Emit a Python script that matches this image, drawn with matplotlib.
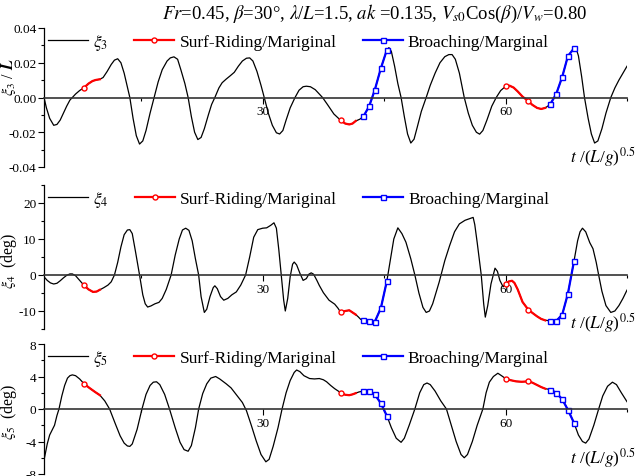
import numpy as np
import matplotlib.pyplot as plt
from matplotlib.lines import Line2D
from matplotlib.ticker import MultipleLocator, FormatStrFormatter

plt.rcParams['font.family'] = ['Liberation Serif', 'DejaVu Serif']
plt.rcParams['mathtext.fontset'] = 'stix'
plt.rcParams['axes.unicode_minus'] = False

# heave (xi3/L)
t3 = [3.0, 3.3, 3.7, 4.2, 4.6, 5.0, 5.4, 5.8, 6.2, 6.5, 6.9, 7.4, 7.95, 8.5, 9.0, 9.4,
      9.9, 10.3, 10.8, 11.3, 11.7, 12.1, 12.5, 12.9, 13.3, 13.6, 14.0, 14.4, 14.8, 15.2,
      15.6, 16.1, 16.6, 17.1, 17.6, 18.2, 18.6, 19.05, 19.5, 19.9, 20.4, 20.8, 21.2,
      21.6, 22.0, 22.4, 22.8, 23.3, 23.7, 24.1, 24.6, 25.0, 25.5, 26.0, 26.5, 27.0,
      27.5, 28.0, 28.4, 28.8, 29.3, 29.8, 30.2, 30.7, 31.2, 31.7, 32.1, 32.5, 32.9,
      33.4, 34.0, 34.5, 35.0, 35.4, 35.9, 36.5, 37.0, 37.4, 38.0, 38.8, 39.65, 40.2,
      40.7, 41.1, 41.5, 42.0, 42.45, 43.15, 43.85, 44.6, 45.35, 45.6, 45.9, 46.3, 46.7,
      47.1, 47.5, 47.9, 48.3, 48.7, 49.1, 49.6, 50.2, 50.7, 51.3, 51.9, 52.5, 53.0,
      53.4, 53.8, 54.3, 54.9, 55.4, 55.9, 56.4, 56.8, 57.2, 57.7, 58.3, 58.85, 59.4,
      60.0, 60.5, 61.0, 61.5, 62.1, 62.8, 63.3, 63.9, 64.4, 64.9, 65.5, 66.25, 67.0,
      67.7, 68.45, 68.7, 69.0, 69.4, 69.75, 70.2, 70.6, 71.0, 71.4, 71.9, 72.4, 73.0,
      73.5, 74.0, 74.5, 75.0]
xi3 = [0.0, -0.006, -0.012, -0.016, -0.0155, -0.013, -0.009, -0.005, -0.0015, 0.0,
       0.002, 0.004, 0.0057, 0.008, 0.0095, 0.0101, 0.0105, 0.0115, 0.015, 0.019, 0.0215,
       0.0223, 0.02, 0.014, 0.006, 0.0, -0.012, -0.022, -0.0268, -0.025, -0.019, -0.009,
       0.0, 0.009, 0.016, 0.021, 0.0228, 0.0234, 0.022, 0.016, 0.008, 0.0, -0.011, -0.02,
       -0.0242, -0.023, -0.018, -0.01, -0.004, 0.0, 0.0055, 0.0085, 0.0106, 0.0125,
       0.0145, 0.018, 0.021, 0.0226, 0.0228, 0.021, 0.015, 0.007, 0.0, -0.009, -0.016,
       -0.0203, -0.021, -0.019, -0.013, -0.006, 0.0, 0.0042, 0.0062, 0.0065, 0.0062,
       0.0045, 0.002, 0.0, -0.004, -0.0095, -0.0132, -0.015, -0.0155, -0.015, -0.0135,
       -0.0125, -0.0109, -0.0051, 0.0043, 0.0168, 0.0275, 0.0287, 0.0265, 0.018, 0.008,
       0.0, -0.011, -0.021, -0.0262, -0.024, -0.017, -0.008, 0.0, 0.007, 0.014, 0.02,
       0.0235, 0.0247, 0.0247, 0.022, 0.014, 0.0, -0.009, -0.016, -0.02, -0.0211, -0.019,
       -0.013, -0.005, 0.0, 0.004, 0.0064, 0.0068, 0.0057, 0.0035, 0.0005, -0.002,
       -0.0042, -0.006, -0.0066, -0.006, -0.004, 0.0019, 0.0119, 0.0238, 0.0283, 0.0285,
       0.024, 0.012, 0.0, -0.012, -0.021, -0.0262, -0.025, -0.018, -0.009, 0.0, 0.0055,
       0.01, 0.014, 0.018]

# roll (xi4, deg)
t4 = [3.0, 3.4, 3.8, 4.2, 4.6, 5.0, 5.4, 5.8, 6.2, 6.5, 6.9, 7.4, 7.95, 8.5, 9.05, 9.5,
      9.9, 10.4, 10.9, 11.3, 11.7, 12.1, 12.5, 12.9, 13.3, 13.6, 13.9, 14.3, 14.8, 15.2,
      15.5, 15.8, 16.2, 16.7, 17.2, 17.6, 18.1, 18.7, 19.2, 19.7, 20.1, 20.5, 20.9,
      21.3, 21.7, 22.1, 22.4, 22.8, 23.1, 23.5, 23.9, 24.1, 24.4, 24.8, 25.2, 25.7,
      26.2, 26.75, 27.3, 27.9, 28.4, 28.9, 29.4, 30.0, 30.5, 31.0, 31.4, 31.7, 32.0,
      32.3, 32.6, 32.8, 33.1, 33.4, 33.7, 33.9, 34.2, 34.6, 35.0, 35.4, 35.7, 36.0,
      36.3, 36.7, 37.0, 37.5, 38.2, 38.9, 39.3, 39.65, 40.2, 40.7, 41.1, 41.5, 41.8,
      42.1, 42.45, 43.15, 43.85, 44.6, 45.35, 45.8, 46.2, 46.7, 47.2, 47.7, 48.3, 48.8,
      49.3, 49.8, 50.2, 50.6, 51.0, 51.4, 51.8, 52.5, 53.1, 53.7, 54.3, 55.0, 55.5,
      56.0, 56.2, 56.5, 57.0, 57.3, 57.5, 57.8, 58.2, 58.7, 59.0, 59.3, 59.7, 60.0,
      60.4, 60.8, 61.1, 61.5, 62.1, 62.8, 63.3, 63.9, 64.4, 64.9, 65.5, 66.25, 67.0,
      67.7, 68.45, 68.9, 69.2, 69.5, 69.9, 70.4, 70.8, 71.2, 71.5, 71.9, 72.4, 73.0,
      73.5, 74.0, 74.5, 75.0]
xi4 = [-0.5, -1.5, -2.2, -2.5, -2.3, -1.6, -0.8, -0.1, 0.3, 0.3, -0.2, -1.5, -2.9, -4.0,
       -4.7, -4.6, -4.1, -3.5, -2.8, -1.9, 0.0, 3.5, 7.8, 11.2, 12.5, 12.6, 11.5, 6.5,
       0.0, -5.5, -8.0, -8.9, -8.6, -8.0, -7.6, -6.5, -4.0, 0.0, 5.5, 10.0, 12.5, 13.0,
       12.4, 9.5, 4.5, 0.0, -6.0, -10.4, -9.5, -6.0, -3.5, -3.0, -3.8, -6.0, -7.0, -6.5,
       -5.5, -4.7, -2.8, 0.0, 5.0, 10.5, 12.6, 13.0, 13.1, 13.8, 14.5, 13.0, 7.0, 0.0,
       -7.0, -10.0, -6.5, -0.5, 3.0, 3.6, 2.8, 0.5, -1.5, -1.0, 0.2, 0.6, 0.2, -1.5,
       -2.9, -4.9, -7.0, -8.1, -9.2, -10.4, -10.0, -9.8, -10.4, -11.0, -11.6, -12.3,
       -12.6, -12.7, -13.0, -9.2, -1.6, 4.5, 10.0, 13.1, 11.5, 9.1, 4.5, 0.0, -5.0, -9.0,
       -10.4, -10.0, -8.0, -5.0, -2.0, 4.0, 8.2, 12.0, 14.2, 15.2, 15.6, 16.0, 14.0, 9.0,
       0.0, -8.0, -11.7, -8.5, -2.5, 1.9, 1.0, -1.5, -3.3, -2.6, -1.8, -1.6, -2.2, -4.0,
       -7.5, -9.6, -10.5, -11.5, -12.2, -12.6, -12.7, -12.8, -11.0, -5.2, 3.8, 9.5, 12.0,
       13.0, 12.0, 9.0, 7.3, 3.5, 0.0, -4.5, -8.5, -10.4, -10.0, -8.5, -6.5, -4.2]

# pitch (xi5, deg)
t5 = [3.0, 3.2, 3.4, 3.7, 4.0, 4.3, 4.6, 4.85, 5.2, 5.55, 5.9, 6.2, 6.5, 6.9, 7.4, 7.95,
      8.6, 9.3, 9.9, 10.5, 11.1, 11.8, 12.4, 12.9, 13.3, 13.6, 13.9, 14.5, 15.1, 15.6,
      16.1, 16.5, 16.9, 17.3, 17.9, 18.5, 19.2, 19.8, 20.3, 20.8, 21.2, 21.7, 22.1,
      22.6, 23.1, 23.6, 24.2, 24.7, 25.5, 26.1, 26.8, 27.5, 28.0, 28.6, 29.2, 29.8,
      30.4, 30.8, 31.3, 31.9, 32.4, 32.9, 33.4, 33.9, 34.2, 34.6, 35.1, 35.8, 36.4,
      37.0, 37.5, 37.9, 38.4, 38.9, 39.65, 40.2, 40.7, 41.1, 41.5, 41.9, 42.45, 43.15,
      43.85, 44.6, 45.35, 45.9, 46.5, 47.1, 47.5, 48.1, 48.8, 49.4, 49.9, 50.3, 50.7,
      51.3, 52.0, 52.7, 53.3, 53.9, 54.5, 54.9, 55.3, 55.9, 56.5, 57.2, 57.6, 58.0,
      58.5, 59.05, 59.5, 60.0, 60.6, 61.3, 62.0, 62.8, 63.3, 63.9, 64.4, 64.9, 65.5,
      66.25, 67.0, 67.7, 68.45, 69.0, 69.5, 69.9, 70.3, 70.9, 71.5, 72.0, 72.6, 73.2,
      73.7, 74.3, 75.0]
xi5 = [-6.3, -5.3, -4.3, -3.2, -2.6, -2.0, -0.8, 0.0, 1.6, 2.9, 3.8, 4.1, 4.2, 4.1, 3.7,
       3.1, 2.6, 2.1, 1.7, 1.0, 0.0, -1.8, -3.3, -4.2, -4.55, -4.6, -4.3, -2.5, 0.0, 1.8,
       2.9, 3.3, 3.35, 3.0, 1.8, 0.0, -2.3, -4.1, -5.0, -5.2, -4.5, -2.3, 0.0, 1.9, 3.1,
       3.8, 4.0, 3.7, 3.1, 2.6, 1.7, 0.8, -0.2, -2.0, -3.9, -5.6, -6.5, -6.2, -4.6, -2.3,
       0.0, 2.0, 3.5, 4.5, 4.8, 4.6, 4.1, 3.75, 3.7, 3.75, 3.6, 3.35, 2.9, 2.5, 2.0, 1.75,
       1.7, 1.8, 1.95, 2.1, 2.2, 2.2, 1.8, 0.7, -0.86, -2.3, -3.6, -4.1, -3.6, -2.0, 0.0,
       2.0, 3.0, 3.2, 3.0, 2.2, 1.0, 0.0, -2.0, -4.0, -5.6, -6.0, -5.6, -4.0, -2.0, 0.0,
       2.0, 3.3, 4.0, 4.4, 4.1, 3.75, 3.55, 3.4, 3.35, 3.4, 3.25, 2.95, 2.7, 2.5, 2.4,
       2.0, 1.2, -0.1, -1.7, -3.2, -4.0, -4.2, -3.7, -2.0, 0.0, 1.6, 2.8, 3.3, 3.0, 2.0,
       0.9]

# time windows of each motion mode
surf_spans = [(7.95, 9.9), (39.65, 41.5), (60.0, 64.9)]
broach_spans = [(42.45, 45.35), (65.5, 68.45)]
surf_marks = [7.95, 39.65, 60.0, 62.8]
broach_marks = [42.45, 43.15, 43.85, 44.6, 45.35, 65.5, 66.25, 67.0, 67.7, 68.45]

W, H = 637, 477
fig = plt.figure(figsize=(W / 100, H / 100), dpi=100)

panels = [
    (t3, xi3, (-0.04, 0.04), 0.02, 0.01, '%.2f', r'$\xi_3$', r'$\xi_3$ / $\mathbfit{L}$',
     (29, 168), (8, 77), 157),
    (t4, xi4, (-15, 25), 10, 5, '%d', r'$\xi_4$', r'$\xi_4$  (deg)', (186, 330),
     (9, 261), 323),
    (t5, xi5, (-8, 8), 4, 2, '%d', r'$\xi_5$', r'$\xi_5$  (deg)', (345, 475),
     (9, 412), 458),
]

fs = 12.5
for t, y, ylim, major, minor, fmt, name, ylab, (top, bot), (lx, ly), xlab_y in panels:
    ax = fig.add_axes([44 / W, 1 - bot / H, (627 - 44) / W, (bot - top) / H])
    t = np.array(t)
    y = np.array(y)

    ax.plot(t, y, color='black', lw=0.9)
    for a, b in surf_spans:
        m = (t >= a) & (t <= b)
        ax.plot(t[m], y[m], color='#ff0000', lw=1.6)
    for a, b in broach_spans:
        m = (t >= a) & (t <= b)
        ax.plot(t[m], y[m], color='#0000ff', lw=1.6)
    m = np.isin(t, surf_marks)
    ax.plot(t[m], y[m], 'o', ms=3.6, mfc='white', mec='#ff0000', mew=1.0)
    m = np.isin(t, broach_marks)
    ax.plot(t[m], y[m], 's', ms=3.6, mfc='white', mec='#0000ff', mew=1.0)

    ax.set_xlim(3, 75)
    ax.set_ylim(*ylim)
    for s in ('top', 'right'):
        ax.spines[s].set_visible(False)
    ax.spines['bottom'].set_position(('data', 0))
    ax.spines['bottom'].set_color('#333333')
    ax.spines['bottom'].set_linewidth(1.2)
    ax.spines['left'].set_linewidth(0.9)

    ax.xaxis.set_major_locator(MultipleLocator(30))
    ax.xaxis.set_minor_locator(MultipleLocator(15))
    ax.yaxis.set_major_locator(MultipleLocator(major))
    ax.yaxis.set_minor_locator(MultipleLocator(minor))
    ax.yaxis.set_major_formatter(FormatStrFormatter(fmt))
    ax.tick_params(which='major', direction='out', length=4, width=0.8,
                   labelsize=9.5, pad=1.5)
    ax.tick_params(which='minor', direction='out', length=2.2, width=0.8)

    handles = [
        Line2D([], [], color='black', lw=0.9),
        Line2D([], [], color='#ff0000', lw=1.6, marker='o', ms=3.6, mfc='white', mew=1.0),
        Line2D([], [], color='#0000ff', lw=1.6, marker='s', ms=3.6, mfc='white', mew=1.0),
    ]
    leg_y = (bot - (top + 14)) / (bot - top)
    ax.legend(handles, [name, 'Surf-Riding/Mariginal', 'Broaching/Marginal'],
              loc='center left', bbox_to_anchor=(0.007, leg_y), ncol=3,
              frameon=False, fontsize=fs, handlelength=2.3, handletextpad=0.3,
              columnspacing=1.5, borderpad=0, borderaxespad=0)

    fig.text(lx / W, 1 - ly / H, ylab, rotation=90, ha='center', va='center',
             fontsize=11.5)
    fig.text(635 / W, 1 - xlab_y / H, r'$t$ /($L$/$g$)$^{0.5}$', ha='right',
             va='center', fontsize=fs)

fig.text(375 / W, 1 - 14 / H,
         r'$Fr$=0.45, $\beta$=30°, $\lambda$/$L$=1.5, $ak$ =0.135, '
         r'$V_{s\mathrm{0}}$Cos($\beta$)/$V_w$=0.80',
         ha='center', va='center', fontsize=13.5)

fig.savefig('out.png', dpi=100)
